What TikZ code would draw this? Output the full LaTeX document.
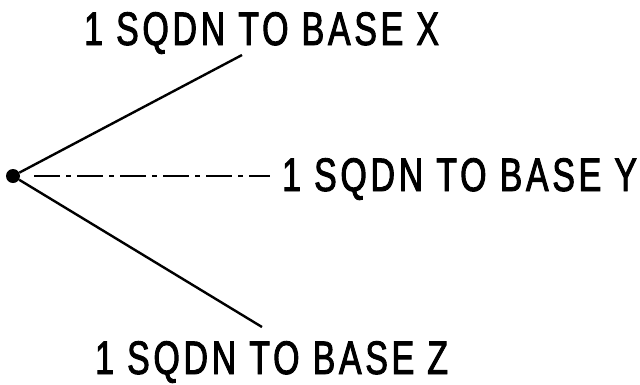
\documentclass[tikz,border=0pt]{standalone}
\usepackage{fontspec}
\usepackage{tikz}
\newfontfamily\sqdnfont{Liberation Sans}[FakeStretch=0.72,LetterSpace=8,FakeBold=2]
\tikzset{
  sqdnlabel/.style={font={\sqdnfont\fontsize{47}{48}\selectfont}, inner sep=0pt, text depth=0pt, anchor=base west},
  hubdot/.style={circle, fill, inner sep=0pt, minimum size=14pt},
  routeline/.style={line width=2.4pt},
  routedash/.style={line width=1.5pt, dash pattern=on 26pt off 6pt on 5pt off 6pt}
}

\begin{document}
\begin{tikzpicture}[x=1pt,y=-1pt]
\useasboundingbox (0,0) rectangle (640,384);
\node[hubdot] (hub) at (13,176) {};
\node[sqdnlabel] (baseX) at (84,45) {1 SQDN TO BASE X};
\node[sqdnlabel] (baseY) at (282,191) {1 SQDN TO BASE Y};
\node[sqdnlabel] (baseZ) at (95,374) {1 SQDN TO BASE Z};
\coordinate (toX) at (242,55);
\coordinate (toZ) at (262,327);
\draw[routeline] (hub) -- (toX);
\draw[routeline] (hub) -- (toZ);
\draw[routedash, shorten <=14pt, shorten >=12pt] (hub.east) -- (hub.east -| baseY.west);
\end{tikzpicture}
\end{document}
